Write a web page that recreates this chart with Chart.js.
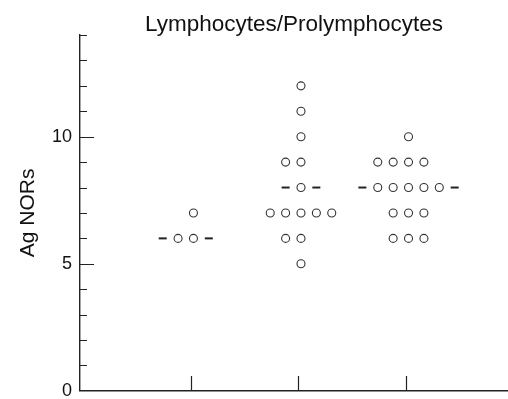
<!DOCTYPE html>
<html>
<head>
<meta charset="utf-8">
<script src="https://cdn.jsdelivr.net/npm/chart.js@4.4.1/dist/chart.umd.min.js"></script>
<style>
html, body { margin: 0; padding: 0; background: #fff; }
</style>
</head>
<body>
<canvas id="myChart" width="508" height="399"></canvas>
<script>
// one column of dots per group
var groupPositions = [1, 2, 3];
var group1 = [6, 6, 7];
var group2 = [12, 11, 10, 9, 9, 8, 7, 7, 7, 7, 7, 6, 6, 5];
var group3 = [10, 9, 9, 9, 9, 8, 8, 8, 8, 8, 7, 7, 7, 6, 6, 6];
var centreValues = [6, 8, 8];
var yTickLabels = [0, 5, 10];

var colStep = 0.143;
var dotShift = 0.025;

function countAt(values, v) {
    return values.filter(function (d) { return d === v; }).length;
}

// dot-plot layout: each row of equal values is spread over columns
function dotPoints(pos, values) {
    var pts = [];
    var seen = {};
    values.forEach(function (v) {
        if (seen[v]) return;
        seen[v] = true;
        var n = countAt(values, v);
        var start = -Math.floor(n / 2);
        for (var i = 0; i < n; i++) {
            pts.push({ x: pos + dotShift + (start + i) * colStep, y: v });
        }
    });
    return pts;
}

function centreDashes(pos, values, v) {
    var n = countAt(values, v);
    var start = -Math.floor(n / 2);
    var end = start + n - 1;
    if (n === 0) { start = 0; end = 0; }
    return [
        { x: pos + dotShift + (start - 1) * colStep, y: v },
        { x: pos + dotShift + (end + 1) * colStep, y: v }
    ];
}

var allGroups = [group1, group2, group3];
var dots = [];
var dashes = [];
allGroups.forEach(function (vals, i) {
    dots = dots.concat(dotPoints(groupPositions[i], vals));
    dashes = dashes.concat(centreDashes(groupPositions[i], vals, centreValues[i]));
});

Chart.defaults.font.family = "'Liberation Sans', Arial, sans-serif";
Chart.defaults.color = '#111';

var tickMarks = {
    id: 'tickMarks',
    afterDraw: function (chart) {
        var ctx = chart.ctx, xs = chart.scales.x, ys = chart.scales.y;
        ctx.save();
        ctx.strokeStyle = '#222';
        ctx.lineWidth = 1.2;
        ctx.beginPath();
        ys.ticks.forEach(function (t) {
            if (t.value === ys.min) return;
            var py = Math.round(ys.getPixelForValue(t.value)) + 0.5;
            var len = t.value % 5 === 0 ? 14 : 7;
            ctx.moveTo(xs.left, py);
            ctx.lineTo(xs.left + len, py);
        });
        groupPositions.forEach(function (g) {
            var px = Math.round(xs.getPixelForValue(g)) + 0.5;
            ctx.moveTo(px, ys.bottom);
            ctx.lineTo(px, ys.bottom - 15);
        });
        ctx.stroke();
        ctx.restore();
    }
};

var ctx1 = document.getElementById('myChart');
var myChart1 = new Chart(ctx1, {
    type: 'scatter',
    data: {
        datasets: [
            {
                label: 'cells',
                data: dots,
                pointStyle: 'circle',
                pointRadius: 4,
                pointBorderWidth: 1.1,
                pointBorderColor: '#333',
                pointBackgroundColor: '#fff'
            },
            {
                label: 'centre',
                data: dashes,
                pointStyle: 'line',
                pointRadius: 4,
                pointBorderWidth: 2,
                pointBorderColor: '#222'
            }
        ]
    },
    options: {
        responsive: false,
        animation: false,
        devicePixelRatio: 1,
        layout: { padding: 0, autoPadding: false },
        plugins: {
            legend: { display: false },
            tooltip: { enabled: false },
            title: {
                display: true,
                fullSize: false,
                text: 'Lymphocytes/Prolymphocytes',
                color: '#111',
                font: { size: 22.5, weight: 'normal', lineHeight: '20px' },
                padding: { top: 15, bottom: 0 }
            }
        },
        scales: {
            x: {
                type: 'linear',
                min: -0.03,
                max: 3.95,
                afterFit: function (s) { s.height = 8; },
                ticks: { display: false },
                grid: { display: false, drawTicks: false },
                border: { display: true, color: '#222', width: 1.4 }
            },
            y: {
                min: 0,
                max: 14,
                afterFit: function (s) { s.width = 80; },
                title: {
                    display: true,
                    text: 'Ag NORs',
                    color: '#111',
                    font: { size: 21 },
                    padding: { top: 16, bottom: 0 }
                },
                ticks: {
                    stepSize: 1,
                    autoSkip: false,
                    padding: 8,
                    color: '#111',
                    font: { size: 18, lineHeight: 0.01 },
                    callback: function (v) { return yTickLabels.indexOf(v) >= 0 ? v : ''; }
                },
                grid: { display: false, drawTicks: false },
                border: { display: true, color: '#222', width: 1.4 }
            }
        }
    },
    plugins: [tickMarks]
});
</script>
</body>
</html>
